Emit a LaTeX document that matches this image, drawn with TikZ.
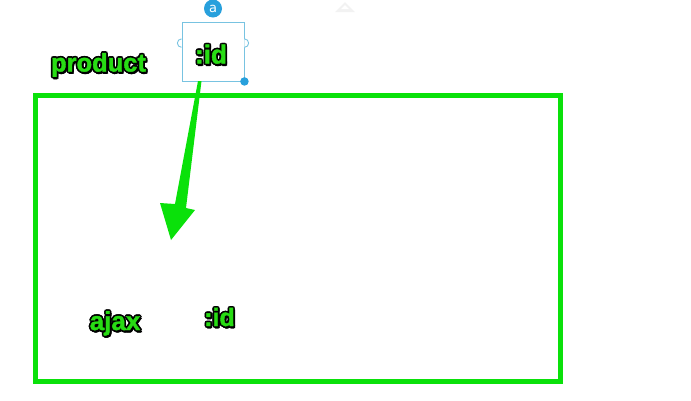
\documentclass[tikz,border=0pt]{standalone}
\usepackage{fontspec}
\setmainfont{Liberation Sans}[BoldFeatures={FakeBold=1.5}]
\newfontfamily\badgefont{DejaVu Sans}
\definecolor{brgreen}{RGB}{10,225,10}
\definecolor{txtgreen}{RGB}{40,220,20}
\definecolor{selblue}{RGB}{40,160,220}
\definecolor{boxblue}{RGB}{120,195,225}
\newcommand\oshift[3]{\rlap{\hspace*{#1}\raisebox{#2}{\textcolor{black}{#3}}}}
\newcommand\olined[1]{\leavevmode
  \oshift{1.7pt}{0pt}{#1}\oshift{-1.7pt}{0pt}{#1}\oshift{0pt}{1.7pt}{#1}\oshift{0pt}{-1.7pt}{#1}%
  \oshift{1.2pt}{1.2pt}{#1}\oshift{-1.2pt}{1.2pt}{#1}\oshift{1.2pt}{-1.2pt}{#1}\oshift{-1.2pt}{-1.2pt}{#1}%
  \oshift{0.8pt}{-2.3pt}{#1}\oshift{1.8pt}{-1.9pt}{#1}%
  \textcolor{txtgreen}{#1}}
\tikzset{
  lbl/.style={inner sep=0pt, anchor=base},
  port/.style={boxblue, line width=0.9pt, fill=white},
}
\begin{document}
\begin{tikzpicture}[x=1pt,y=-1pt]
\useasboundingbox (0,0) rectangle (691,400);
% faint triangle at the top
\fill[black!5] (335,12) -- (345,2) -- (355,12) -- cycle;
\fill[white] (341,9) -- (345,5) -- (349,9) -- cycle;
% big green rectangle
\node[draw=brgreen, line width=5pt, minimum width=525pt, minimum height=285.5pt, inner sep=0pt] (frame) at (298,238.25) {};
% selected box
\node[draw=boxblue, line width=0.9pt, fill=white, minimum width=62pt, minimum height=59pt, inner sep=0pt] (box) at (213,51.5) {};
\draw[port] (box.west) ++(0,-4.2) arc[start angle=90, end angle=270, radius=4.2];
\draw[port] (box.east) ++(0,-4.2) arc[start angle=90, end angle=-90, radius=4.2];
\node[circle, fill=selblue, minimum size=18pt, inner sep=0pt, text=white, font=\badgefont\fontsize{13}{13}\selectfont] (badge) at (213,8.5) {a};
\node[circle, fill=selblue, minimum size=8.5pt, inner sep=0pt] (handle) at (box.south east) {};
\node[lbl, font=\bfseries\fontsize{26}{26}\selectfont] (boxid) at (211,63.5) {\olined{:id}};
% labels
\node[lbl, font=\bfseries\fontsize{25.5}{25.5}\selectfont] (product) at (98.5,71.5) {\olined{product}};
\node[lbl, font=\bfseries\fontsize{26}{26}\selectfont] (ajax) at (115,330) {\olined{ajax}};
\node[lbl, font=\bfseries\fontsize{25}{25}\selectfont] (id2) at (219.5,326) {\olined{:id}};
% arrow
\coordinate (tail) at (199.7,81);
\coordinate (tip) at (171,240);
\fill[brgreen] (198,81) -- (201.5,81) -- (186,208) -- (195,210) -- (tip) -- (160,203) -- (175,204) -- cycle;
\end{tikzpicture}
\end{document}
